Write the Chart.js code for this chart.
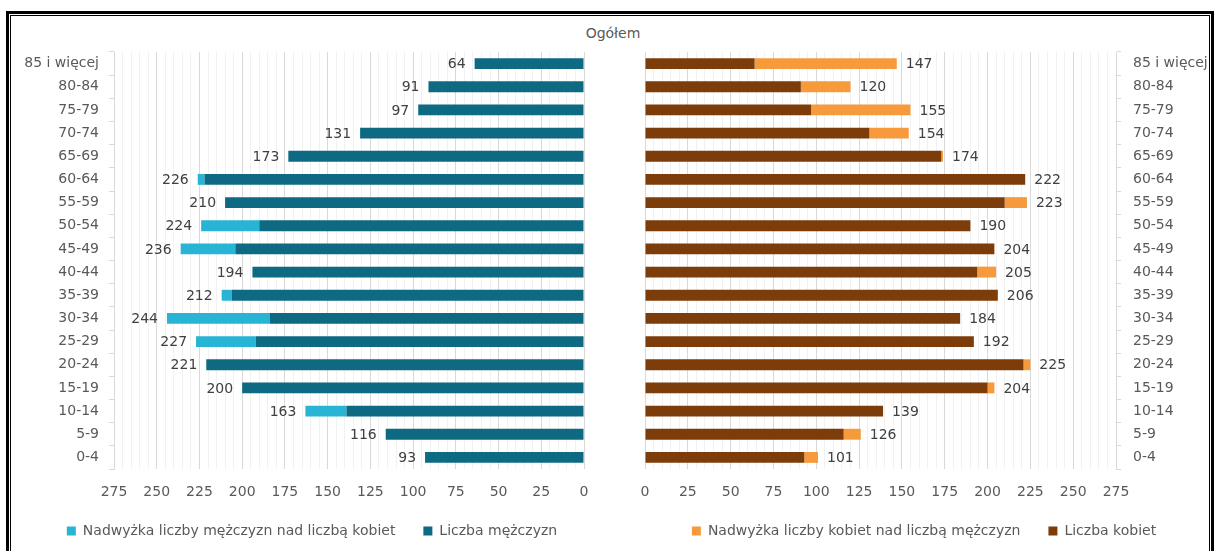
<!DOCTYPE html>
<html lang="pl">
<head>
<meta charset="utf-8">
<title>Ludność według wieku i płci</title>
<script src="https://cdn.jsdelivr.net/npm/chart.js@4.4.1/dist/chart.umd.min.js"></script>
<style>
  html, body { margin: 0; padding: 0; background: #fff; }
  body { width: 1215px; height: 551px; position: relative; overflow: hidden; font-family: "DejaVu Sans", sans-serif; }
  .frame-outer { position: absolute; left: 6px; top: 11px; width: 1202px; height: 548px; border: 3px solid #000; }
  .frame-inner { position: absolute; left: 1px; top: 1px; right: 1px; bottom: 1px; border: 1px solid #000; }
  .title { position: absolute; left: 563px; top: 24px; width: 100px; text-align: center; font-size: 14px; line-height: 18px; color: #595959; }
  canvas { position: absolute; }
  #men { left: 12px; top: 40px; }
  #women { left: 600px; top: 40px; }
</style>
</head>
<body>
<div class="frame-outer"><div class="frame-inner"></div></div>
<div class="title">Ogółem</div>
<canvas id="men" width="600" height="508"></canvas>
<canvas id="women" width="612" height="508"></canvas>
<script>
// age groups, top row first
const ageGroups = ['85 i więcej', '80-84', '75-79', '70-74', '65-69', '60-64', '55-59', '50-54', '45-49',
  '40-44', '35-39', '30-34', '25-29', '20-24', '15-19', '10-14', '5-9', '0-4'];
const men = [64, 91, 97, 131, 173, 226, 210, 224, 236, 194, 212, 244, 227, 221, 200, 163, 116, 93];
const women = [147, 120, 155, 154, 174, 222, 223, 190, 204, 205, 206, 184, 192, 225, 204, 139, 126, 101];
const totals = [211, 211, 252, 285, 347, 448, 433, 414, 440, 399, 418, 428, 419, 446, 404, 302, 242, 194];

const axisMax = 275;
const gridStep = 5;
const labelStep = 25;

// the part both sexes share, and the surplus of each
const common = men.map((m, i) => Math.min(m, women[i]));
const menSurplus = men.map((m, i) => m - common[i]);
const womenSurplus = women.map((w, i) => w - common[i]);

const COLORS = {
  menDark: '#0d6a82',
  menLight: '#28b4d5',
  womenDark: '#7d3d0b',
  womenLight: '#f69a3c',
  text: '#595959',
  label: '#404040',
  gridMajor: '#d9d9d9',
  gridMinor: '#f1f1f1'
};
const FONT = { family: '"DejaVu Sans", sans-serif', size: 14 };

Chart.defaults.font.family = FONT.family;
Chart.defaults.font.size = FONT.size;
Chart.defaults.color = COLORS.text;

/**
 * Draws the value at the outer end of every stacked bar
 */
const endLabels = {
  id: 'endLabels',
  afterDatasetsDraw(chart, args, opts) {
    const { ctx } = chart;
    const meta = chart.getDatasetMeta(chart.data.datasets.length - 1);
    ctx.save();
    ctx.font = `${FONT.size}px ${FONT.family}`;
    ctx.fillStyle = COLORS.label;
    ctx.textBaseline = 'middle';
    ctx.textAlign = opts.side === 'left' ? 'right' : 'left';
    meta.data.forEach((bar, i) => {
      const x = opts.side === 'left' ? bar.x - opts.gap : bar.x + opts.gap;
      ctx.fillText(String(opts.values[i]), x, bar.y + 1);
    });
    ctx.restore();
  }
};

// fixed box sizes, and no extra room kept for half labels at the ends
function fixSize(width, height) {
  return s => {
    if (width != null) s.width = width;
    if (height != null) s.height = height;
    s.paddingTop = 0;
    s.paddingBottom = 0;
    s.paddingLeft = 0;
    s.paddingRight = 0;
  };
}

function valueAxis(reverse) {
  return {
    reverse,
    min: 0,
    max: axisMax,
    stacked: true,
    border: { display: false },
    grid: {
      drawTicks: false,
      color: ctx => (ctx.tick && ctx.tick.value % labelStep === 0 ? COLORS.gridMajor : COLORS.gridMinor)
    },
    ticks: {
      stepSize: gridStep,
      autoSkip: false,
      maxRotation: 0,
      padding: 15,
      callback: v => (v % labelStep === 0 ? v : '')
    },
    afterFit: fixSize(null, 27)
  };
}

function ageAxis(position, padding, width) {
  return {
    type: 'category',
    position,
    stacked: true,
    offset: true,
    grid: { offset: true, drawOnChartArea: false, tickLength: 5, color: COLORS.gridMajor },
    border: { display: true, color: COLORS.gridMajor },
    ticks: { padding },
    afterFit: fixSize(width, null)
  };
}

function legendOptions() {
  return {
    position: 'bottom',
    reverse: true,
    labels: { boxWidth: 9, boxHeight: 9, padding: 28, color: COLORS.text }
  };
}

function barSet(label, data, color) {
  return { label, data, backgroundColor: color, barPercentage: 0.47, categoryPercentage: 1 };
}

new Chart(document.getElementById('men'), {
  type: 'bar',
  data: {
    labels: ageGroups,
    datasets: [
      barSet('Liczba mężczyzn', common, COLORS.menDark),
      barSet('Nadwyżka liczby mężczyzn nad liczbą kobiet', menSurplus, COLORS.menLight)
    ]
  },
  options: {
    indexAxis: 'y',
    responsive: false,
    animation: false,
    layout: { padding: { top: 12, right: 0, bottom: 0, left: 0 } },
    scales: {
      x: valueAxis(true),
      y: ageAxis('left', 10, 102),
      pad: {
        type: 'category',
        position: 'right',
        grid: { display: false },
        border: { display: false },
        ticks: { display: false },
        afterFit: fixSize(28, null)
      }
    },
    plugins: {
      legend: legendOptions(),
      tooltip: { enabled: false },
      endLabels: { side: 'left', gap: 9, values: men }
    }
  },
  plugins: [endLabels]
});

new Chart(document.getElementById('women'), {
  type: 'bar',
  data: {
    labels: ageGroups,
    datasets: [
      barSet('Liczba kobiet', common, COLORS.womenDark),
      barSet('Nadwyżka liczby kobiet nad liczbą mężczyzn', womenSurplus, COLORS.womenLight)
    ]
  },
  options: {
    indexAxis: 'y',
    responsive: false,
    animation: false,
    layout: { padding: { top: 12, right: 0, bottom: 0, left: 36 } },
    scales: {
      x: valueAxis(false),
      y: ageAxis('right', 12, 96),
      total: {
        type: 'category',
        position: 'left',
        labels: totals.map(String),
        offset: true,
        grid: { display: false },
        border: { display: false },
        ticks: { padding: 18 },
        afterFit: fixSize(9, null)
      }
    },
    plugins: {
      legend: legendOptions(),
      tooltip: { enabled: false },
      endLabels: { side: 'right', gap: 9, values: women }
    }
  },
  plugins: [endLabels]
});
</script>
</body>
</html>
